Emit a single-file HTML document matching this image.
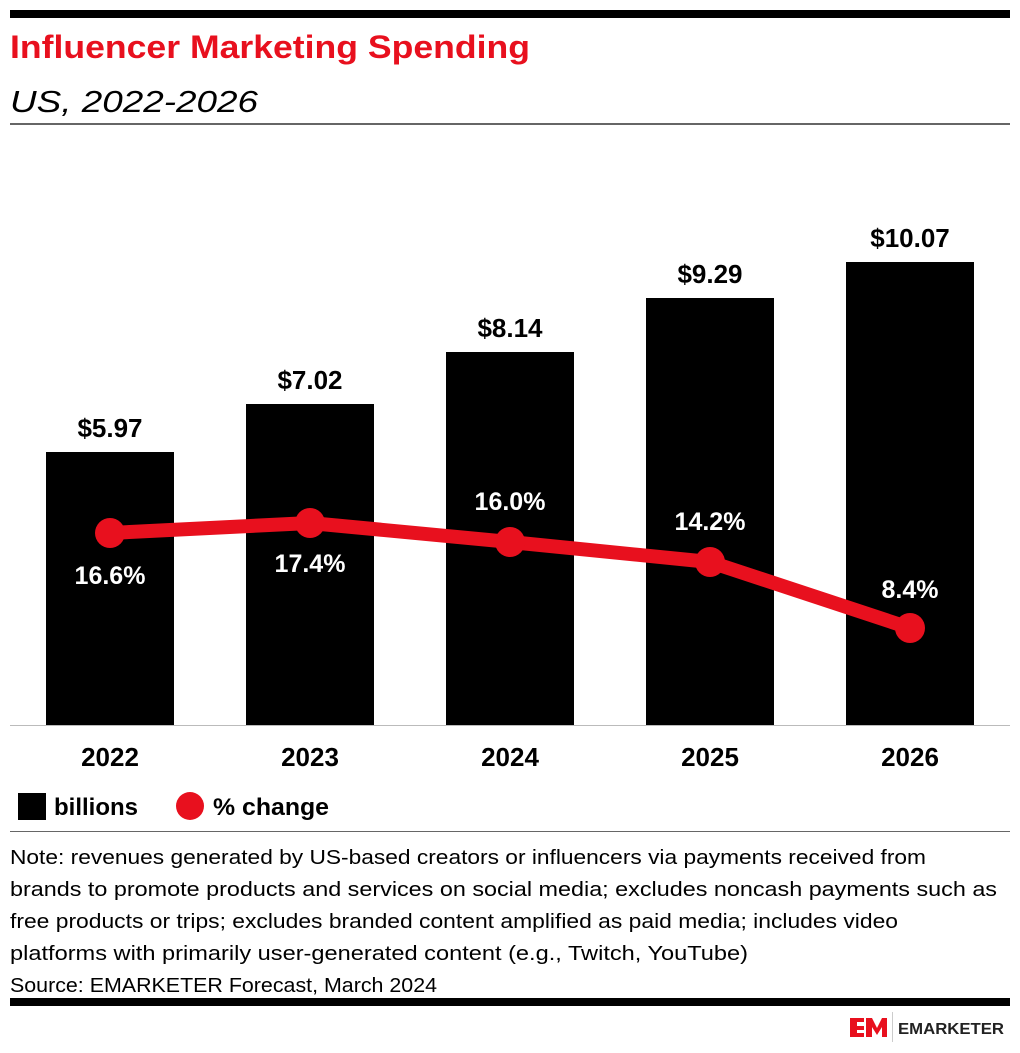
<!DOCTYPE html>
<html><head><meta charset="utf-8"><style>
body{margin:0;background:#fff;width:1020px;height:1048px;overflow:hidden;font-family:"Liberation Sans",sans-serif}
</style></head><body>
<svg width="1020" height="1048" xmlns="http://www.w3.org/2000/svg" font-family="Liberation Sans, sans-serif">
<rect x="10" y="10" width="1000" height="8" fill="#000"/>
<text x="10" y="58" font-size="32" font-weight="bold" fill="#e8101e" textLength="520" lengthAdjust="spacingAndGlyphs">Influencer Marketing Spending</text>
<text x="10" y="112" font-size="31" font-style="italic" fill="#000" textLength="248" lengthAdjust="spacingAndGlyphs">US, 2022-2026</text>
<rect x="10" y="123" width="1000" height="2" fill="#666"/>
<g fill="#000">
<rect x="46" y="452" width="128" height="273"/>
<rect x="246" y="404" width="128" height="321"/>
<rect x="446" y="352" width="128" height="373"/>
<rect x="646" y="298" width="128" height="427"/>
<rect x="846" y="262" width="128" height="463"/>
</g>
<rect x="10" y="725" width="1000" height="1" fill="#bbb"/>
<g font-size="26" font-weight="bold" text-anchor="middle" fill="#000">
<text x="110" y="437">$5.97</text>
<text x="310" y="389">$7.02</text>
<text x="510" y="337">$8.14</text>
<text x="710" y="283">$9.29</text>
<text x="910" y="247">$10.07</text>
<text x="110" y="766">2022</text>
<text x="310" y="766">2023</text>
<text x="510" y="766">2024</text>
<text x="710" y="766">2025</text>
<text x="910" y="766">2026</text>
</g>
<polyline points="110,533 310,523 510,542 710,562 910,628" fill="none" stroke="#e8101e" stroke-width="14" stroke-linejoin="round"/>
<g fill="#e8101e">
<circle cx="110" cy="533" r="15"/><circle cx="310" cy="523" r="15"/><circle cx="510" cy="542" r="15"/><circle cx="710" cy="562" r="15"/><circle cx="910" cy="628" r="15"/>
</g>
<g font-size="25" font-weight="bold" text-anchor="middle" fill="#fff">
<text x="110" y="584">16.6%</text>
<text x="310" y="572">17.4%</text>
<text x="510" y="510">16.0%</text>
<text x="710" y="530">14.2%</text>
<text x="910" y="598">8.4%</text>
</g>
<rect x="18" y="793" width="28" height="27" fill="#000"/>
<text x="54" y="815" font-size="24" font-weight="bold">billions</text>
<circle cx="190" cy="806" r="14" fill="#e8101e"/>
<text x="213" y="815" font-size="24" font-weight="bold" textLength="116" lengthAdjust="spacingAndGlyphs">% change</text>
<rect x="10" y="831" width="1000" height="1" fill="#666"/>
<g font-size="20.5" fill="#000">
<text x="10" y="864" textLength="916" lengthAdjust="spacingAndGlyphs">Note: revenues generated by US-based creators or influencers via payments received from</text>
<text x="10" y="896" textLength="987" lengthAdjust="spacingAndGlyphs">brands to promote products and services on social media; excludes noncash payments such as</text>
<text x="10" y="928" textLength="888" lengthAdjust="spacingAndGlyphs">free products or trips; excludes branded content amplified as paid media; includes video</text>
<text x="10" y="960" textLength="738" lengthAdjust="spacingAndGlyphs">platforms with primarily user-generated content (e.g., Twitch, YouTube)</text>
<text x="10" y="992" textLength="427" lengthAdjust="spacingAndGlyphs">Source: EMARKETER Forecast, March 2024</text>
</g>
<rect x="10" y="998" width="1000" height="8" fill="#000"/>
<g fill="#e8101e">
<rect x="850" y="1018" width="7" height="19"/>
<rect x="850" y="1018" width="14" height="4"/>
<rect x="850" y="1026" width="14" height="4"/>
<rect x="850" y="1033" width="14" height="4"/>
<polygon points="866,1018 872,1018 877,1028 882,1018 887,1018 887,1037 882,1037 882,1027 877,1035 872,1027 872,1037 866,1037"/>
</g>
<rect x="892" y="1012" width="1" height="30" fill="#ccc"/>
<text x="898" y="1034" font-size="16" font-weight="bold" fill="#222" textLength="106" lengthAdjust="spacingAndGlyphs">EMARKETER</text>
</svg>
</body></html>
